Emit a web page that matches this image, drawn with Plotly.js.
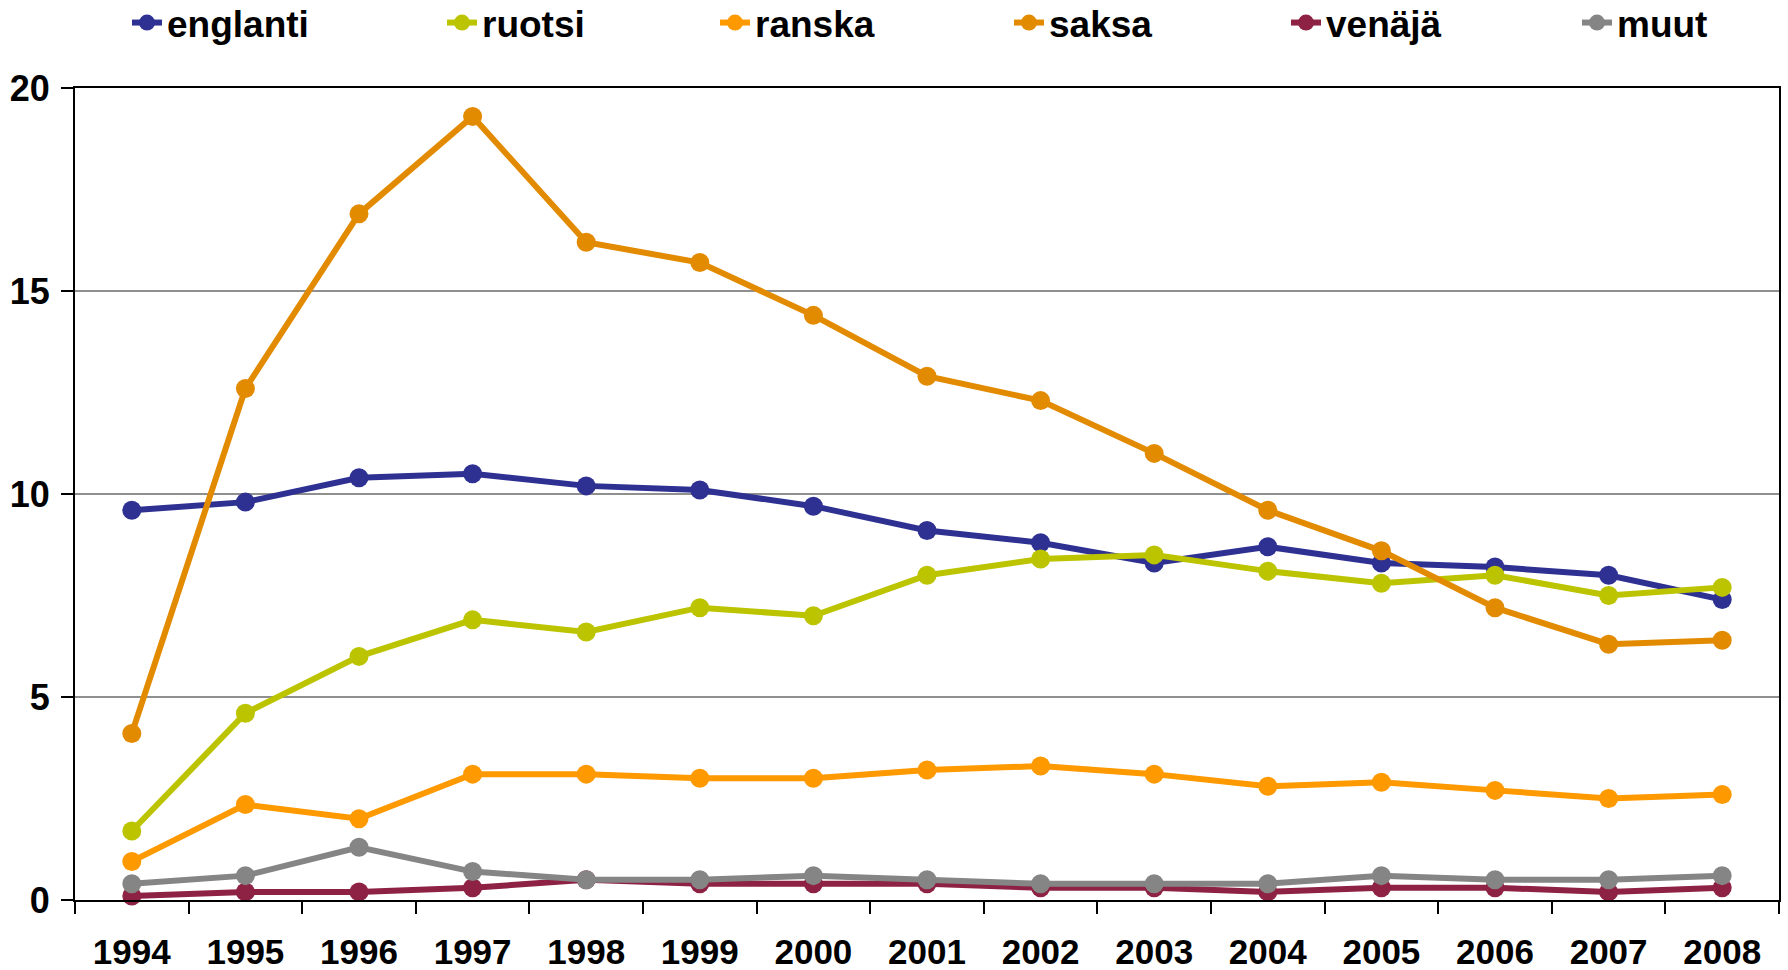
<!DOCTYPE html>
<html>
<head>
<meta charset="utf-8">
<script src="https://cdn.plot.ly/plotly-3.0.1.min.js"></script>
<style>html,body{margin:0;padding:0;background:#fff;}#chart{width:1788px;height:970px;}</style>
</head>
<body>
<div id="chart"></div>
<script>
const years = ["1994","1995","1996","1997","1998","1999","2000","2001","2002","2003","2004","2005","2006","2007","2008"];
const englanti = [9.6, 9.8, 10.4, 10.5, 10.2, 10.1, 9.7, 9.1, 8.8, 8.3, 8.7, 8.3, 8.2, 8.0, 7.4];
const ruotsi   = [1.7, 4.6, 6.0, 6.9, 6.6, 7.2, 7.0, 8.0, 8.4, 8.5, 8.1, 7.8, 8.0, 7.5, 7.7];
const ranska   = [0.95, 2.35, 2.0, 3.1, 3.1, 3.0, 3.0, 3.2, 3.3, 3.1, 2.8, 2.9, 2.7, 2.5, 2.6];
const saksa    = [4.1, 12.6, 16.9, 19.3, 16.2, 15.7, 14.4, 12.9, 12.3, 11.0, 9.6, 8.6, 7.2, 6.3, 6.4];
const venaja   = [0.1, 0.2, 0.2, 0.3, 0.5, 0.4, 0.4, 0.4, 0.3, 0.3, 0.2, 0.3, 0.3, 0.2, 0.3];
const muut     = [0.4, 0.6, 1.3, 0.7, 0.5, 0.5, 0.6, 0.5, 0.4, 0.4, 0.4, 0.6, 0.5, 0.5, 0.6];

const seriesNames = ["englanti","ruotsi","ranska","saksa","venäjä","muut"];
const seriesData = [englanti, ruotsi, ranska, saksa, venaja, muut];
const seriesColors = ["#2E3192","#BCC400","#FF9900","#E38B00","#8E2244","#858585"];
const legendX = [127, 442, 715, 1009, 1286, 1577];

const fontFam = '"Liberation Sans", Arial, Helvetica, sans-serif';

const traces = seriesNames.map((n, i) => ({
  type: 'scatter',
  mode: 'lines+markers',
  name: n,
  x: years,
  y: seriesData[i],
  line: {color: seriesColors[i], width: 6},
  marker: {color: seriesColors[i], size: 19, symbol: 'circle', line: {width: 0}},
  cliponaxis: false,
  legend: i === 0 ? 'legend' : 'legend' + (i + 1)
}));

const layout = {
  width: 1788,
  height: 970,
  margin: {l: 75, r: 9, t: 88, b: 70},
  paper_bgcolor: '#ffffff',
  plot_bgcolor: '#ffffff',
  showlegend: true,
  font: {family: fontFam, color: '#000000', size: 34, weight: 700},
  xaxis: {
    type: 'category',
    range: [-0.5, 14.5],
    autorange: false,
    tickson: 'boundaries',
    ticks: 'outside',
    ticklen: 12,
    tickwidth: 2,
    tickcolor: '#000000',
    showline: true,
    mirror: true,
    linecolor: '#000000',
    linewidth: 2,
    showgrid: false,
    zeroline: false,
    ticklabelstandoff: 20,
    tickfont: {family: fontFam, size: 35, color: '#000000', weight: 700}
  },
  yaxis: {
    range: [0, 20],
    autorange: false,
    tickvals: [0, 5, 10, 15, 20],
    ticks: 'outside',
    ticklen: 12,
    tickwidth: 2,
    tickcolor: '#000000',
    showline: true,
    mirror: true,
    linecolor: '#000000',
    linewidth: 2,
    showgrid: true,
    gridcolor: '#8f8f8f',
    gridwidth: 2,
    zeroline: false,
    ticklabelstandoff: 4,
    tickfont: {family: fontFam, size: 36, color: '#000000', weight: 700}
  }
};

seriesNames.forEach((n, i) => {
  const key = i === 0 ? 'legend' : 'legend' + (i + 1);
  layout[key] = {
    xref: 'container', yref: 'container',
    x: legendX[i] / 1788, y: 1 - 23 / 970,
    xanchor: 'left', yanchor: 'middle',
    orientation: 'h',
    bgcolor: 'rgba(0,0,0,0)',
    borderwidth: 0,
    font: {family: fontFam, size: 37, color: '#000000', weight: 700}
  };
});

Plotly.newPlot('chart', traces, layout, {displayModeBar: false, staticPlot: true});
</script>
</body>
</html>
